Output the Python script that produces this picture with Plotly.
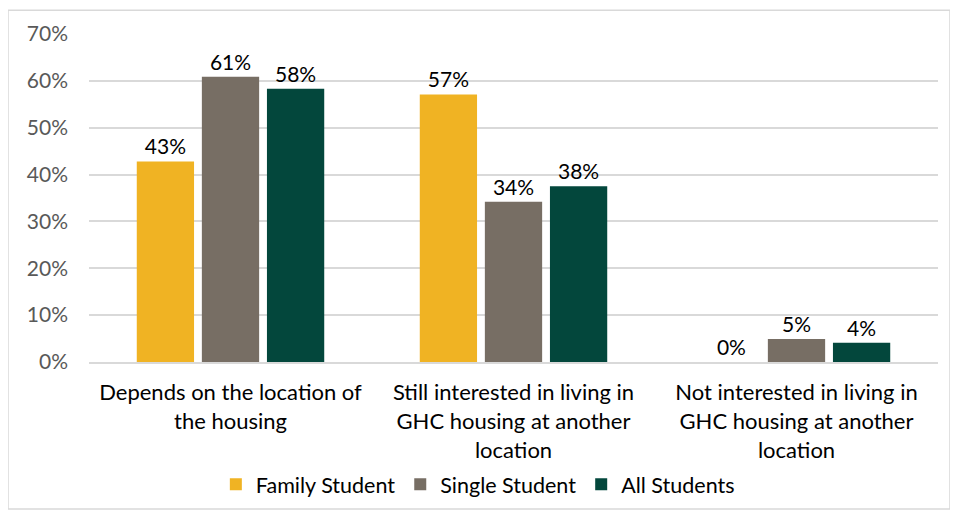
import plotly.graph_objects as go

categories = [
    "Depends on the location of<br>the housing",
    "Still interested in living in<br>GHC housing at another<br>location",
    "Not interested in living in<br>GHC housing at another<br>location",
]
series_names = ["Family Student", "Single Student", "All Students"]
family_student = [42.8, 57.1, 0.0]
single_student = [60.9, 34.2, 4.9]
all_students = [58.3, 37.5, 4.1]
colors = ["#F0B323", "#776E64", "#03473C"]
y_ticks = [0, 10, 20, 30, 40, 50, 60, 70]
y_tick_labels = [f"{v}%" for v in y_ticks]

FONT = "Lato"
fig = go.Figure()
for name, vals, col in zip(series_names, [family_student, single_student, all_students], colors):
    fig.add_trace(go.Bar(
        x=categories, y=vals, name=name, marker_color=col,
        marker_line_width=0,
        text=[f"{v:.0f}%" for v in vals], textposition="outside",
        textfont=dict(family=FONT, size=21, color="#000000"),
        cliponaxis=False,
    ))

fig.update_layout(
    width=958, height=519,
    margin=dict(l=81, r=28, t=24, b=165),
    paper_bgcolor="white", plot_bgcolor="white",
    barmode="group", bargap=0.31, bargroupgap=0.12,
    font=dict(family=FONT, size=21, color="#000000"),
    showlegend=True,
    legend=dict(orientation="h", x=0.458, xanchor="center", y=-0.373, yanchor="middle",
                font=dict(family=FONT, size=21.5, color="#000000"),
                itemwidth=30, tracegroupgap=0),
    xaxis=dict(showgrid=False, showline=True, linecolor="#D9D9D9", linewidth=2,
               tickfont=dict(family=FONT, size=22, color="#000000"), ticks="",
               ticklabelstandoff=10),
    yaxis=dict(range=[0, 70], tickmode="array", tickvals=y_ticks, ticktext=y_tick_labels,
               showgrid=True, gridcolor="#D9D9D9", gridwidth=1.5,
               zeroline=False, showline=False,
               tickfont=dict(family=FONT, size=21, color="#595959"), ticks="", ticklabelstandoff=20),
    shapes=[dict(type="rect", xref="paper", yref="paper",
                 x0=-0.0954, x1=1.0141, y0=-0.4485, y1=1.0727,
                 line=dict(color="#D9D9D9", width=1.5), fillcolor="rgba(0,0,0,0)", layer="below")],
)
fig.write_html("out.html")
